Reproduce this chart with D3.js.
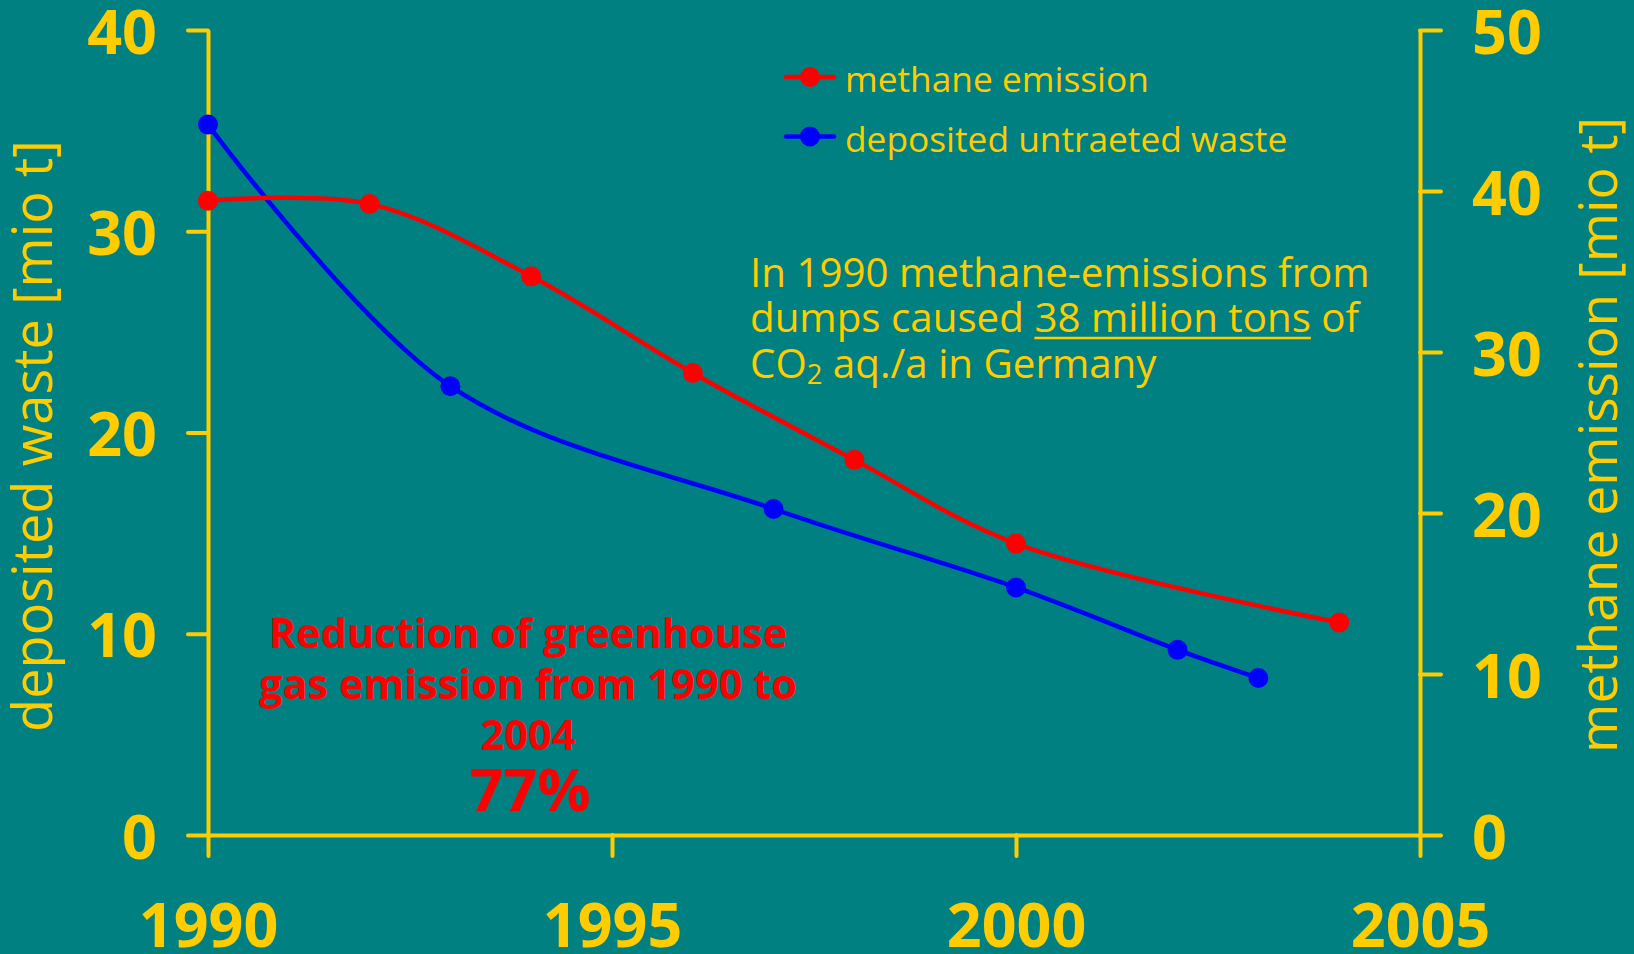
<!DOCTYPE html>
<html>
<head>
<meta charset="utf-8">
<script src="https://cdn.jsdelivr.net/npm/d3@7"></script>
<style>
  html, body { margin: 0; padding: 0; background: #008080; }
  svg { display: block; }
  text { font-family: "Open Sans", "Noto Sans", "DejaVu Sans", sans-serif; }
</style>
</head>
<body>
<svg id="chart" width="1634" height="954"></svg>
<script>
// Methane emission from landfills [mio t CO2 eq.] (right axis)
const methaneYears = [1990, 1992, 1994, 1996, 1998, 2000, 2004];
const methaneValues = [39.4, 39.2, 34.7, 28.7, 23.3, 18.1, 13.2];

// Deposited untreated waste [mio t] (left axis)
const wasteYears = [1990, 1993, 1997, 2000, 2002, 2003];
const wasteValues = [35.3, 22.3, 16.2, 12.3, 9.2, 7.8];

// Axis ticks
const xTicks = [1990, 1995, 2000, 2005];
const leftTicks = [0, 10, 20, 30, 40];
const rightTicks = [0, 10, 20, 30, 40, 50];

const YELLOW = "#ffcc00", RED = "#ff0000", BLUE = "#0000ff", BG = "#008080";

const svg = d3.select("#chart");
svg.append("rect").attr("width", 1634).attr("height", 954).attr("fill", BG);

const x = d3.scaleLinear().domain([1990, 2005]).range([208, 1420]);
const yL = d3.scaleLinear().domain([0, 40]).range([835, 30]);
const yR = d3.scaleLinear().domain([0, 50]).range([835, 30]);

// scale a text element's font size so its rendered width hits a target
function fitWidth(sel, target) {
  const w = sel.node().getComputedTextLength();
  const fs = parseFloat(sel.attr("font-size"));
  const nfs = fs * target / w;
  sel.attr("font-size", nfs);
  return nfs;
}

function styleAxis(g) {
  g.selectAll("path.domain").attr("stroke", YELLOW).attr("stroke-width", 4);
  g.selectAll(".tick line").attr("stroke", YELLOW).attr("stroke-width", 4)
    .attr("stroke-linecap", "round");
  g.selectAll(".tick text").attr("fill", YELLOW)
    .attr("font-family", "'Open Sans', 'Noto Sans', sans-serif")
    .attr("font-weight", 700).attr("font-size", 61);
}

// Left axis
const gL = svg.append("g").attr("transform", `translate(${x(1990)},0)`)
  .call(d3.axisLeft(yL).tickValues(leftTicks).tickSize(20).tickSizeOuter(0).tickPadding(31));
styleAxis(gL);
gL.selectAll(".tick text").attr("dy", "0.38em");

// Right axis
const gR = svg.append("g").attr("transform", `translate(${x(2005)},0)`)
  .call(d3.axisRight(yR).tickValues(rightTicks).tickSize(21).tickSizeOuter(0).tickPadding(31));
styleAxis(gR);
gR.selectAll(".tick text").attr("dy", "0.38em");

// Bottom axis
const gX = svg.append("g").attr("transform", `translate(0,${yL(0)})`)
  .call(d3.axisBottom(x).tickValues(xTicks).tickFormat(d3.format("d")).tickSize(21).tickSizeOuter(0));
styleAxis(gX);
gX.selectAll(".tick text").attr("y", 112).attr("dy", 0);

// Axis titles
const titleL = svg.append("text")
  .attr("transform", `translate(52,436) rotate(-90)`)
  .attr("text-anchor", "middle").attr("fill", YELLOW)
  .attr("font-size", 54).attr("font-weight", 500)
  .text("deposited waste [mio t]");
fitWidth(titleL, 592);

const titleR = svg.append("text")
  .attr("transform", `translate(1617,435) rotate(-90)`)
  .attr("text-anchor", "middle").attr("fill", YELLOW)
  .attr("font-size", 54).attr("font-weight", 500)
  .text("methane emission [mio t]");
fitWidth(titleR, 636);

// Series lines
const curve = d3.curveCatmullRom.alpha(0.5);
const methane = methaneYears.map((yr, i) => ({ yr, v: methaneValues[i] }));
const waste = wasteYears.map((yr, i) => ({ yr, v: wasteValues[i] }));

svg.append("path").datum(waste)
  .attr("fill", "none").attr("stroke", BLUE).attr("stroke-width", 4.5)
  .attr("d", d3.line().x(d => x(d.yr)).y(d => yL(d.v)).curve(curve));
svg.append("path").datum(methane)
  .attr("fill", "none").attr("stroke", RED).attr("stroke-width", 4.5)
  .attr("d", d3.line().x(d => x(d.yr)).y(d => yR(d.v)).curve(curve));

svg.append("g").selectAll("circle").data(waste).join("circle")
  .attr("cx", d => x(d.yr)).attr("cy", d => yL(d.v)).attr("r", 10).attr("fill", BLUE);
svg.append("g").selectAll("circle").data(methane).join("circle")
  .attr("cx", d => x(d.yr)).attr("cy", d => yR(d.v)).attr("r", 10).attr("fill", RED);

// Legend
const legendItems = [
  { label: "methane emission", color: RED, y: 77 },
  { label: "deposited untraeted waste", color: BLUE, y: 136.5 }
];
const lg = svg.append("g");
legendItems.forEach(item => {
  lg.append("line").attr("x1", 786).attr("x2", 834).attr("y1", item.y).attr("y2", item.y)
    .attr("stroke", item.color).attr("stroke-width", 4.5).attr("stroke-linecap", "round");
  lg.append("circle").attr("cx", 810).attr("cy", item.y).attr("r", 10).attr("fill", item.color);
});
const lt1 = lg.append("text").attr("x", 845).attr("y", legendItems[0].y + 15)
  .attr("fill", YELLOW).attr("font-size", 35).text(legendItems[0].label);
const legendSize = fitWidth(lt1, 304);
lg.append("text").attr("x", 845).attr("y", legendItems[1].y + 15)
  .attr("fill", YELLOW).attr("font-size", legendSize).text(legendItems[1].label);

// Annotation about 1990 emissions
const note = svg.append("g").attr("fill", YELLOW);
const n1 = note.append("text").attr("x", 750).attr("y", 287).attr("font-size", 40)
  .text("In 1990 methane-emissions from");
const noteSize = fitWidth(n1, 620);
const n2 = note.append("text").attr("x", 750).attr("y", 332).attr("font-size", noteSize);
n2.append("tspan").text("dumps caused ");
const under = n2.append("tspan").text("38 million tons");
n2.append("tspan").text(" of");
const n3 = note.append("text").attr("x", 750).attr("y", 378).attr("font-size", noteSize);
n3.append("tspan").text("CO");
n3.append("tspan").attr("font-size", noteSize * 0.68).attr("dy", 6).text("2");
n3.append("tspan").attr("dy", -6).text(" aq./a in Germany");

const uNode = under.node();
const uStart = uNode.getStartPositionOfChar(0).x;
const uEnd = uNode.getEndPositionOfChar(uNode.getNumberOfChars() - 1).x;
note.append("line").attr("x1", uStart).attr("x2", uEnd).attr("y1", 338).attr("y2", 338)
  .attr("stroke", YELLOW).attr("stroke-width", 2.7);

// Reduction statement
const red = svg.append("g").attr("fill", RED).attr("font-weight", 700).attr("text-anchor", "middle");
const r1 = red.append("text").attr("x", 528).attr("y", 648).attr("font-size", 40)
  .text("Reduction of greenhouse");
const redSize = fitWidth(r1, 519);
red.append("text").attr("x", 528).attr("y", 699).attr("font-size", redSize)
  .text("gas emission from 1990 to");
red.append("text").attr("x", 528).attr("y", 750).attr("font-size", redSize)
  .text("2004");
const pct = red.append("text").attr("x", 530).attr("y", 811).attr("font-size", 55)
  .text("77%");
fitWidth(pct, 121);
</script>
</body>
</html>
